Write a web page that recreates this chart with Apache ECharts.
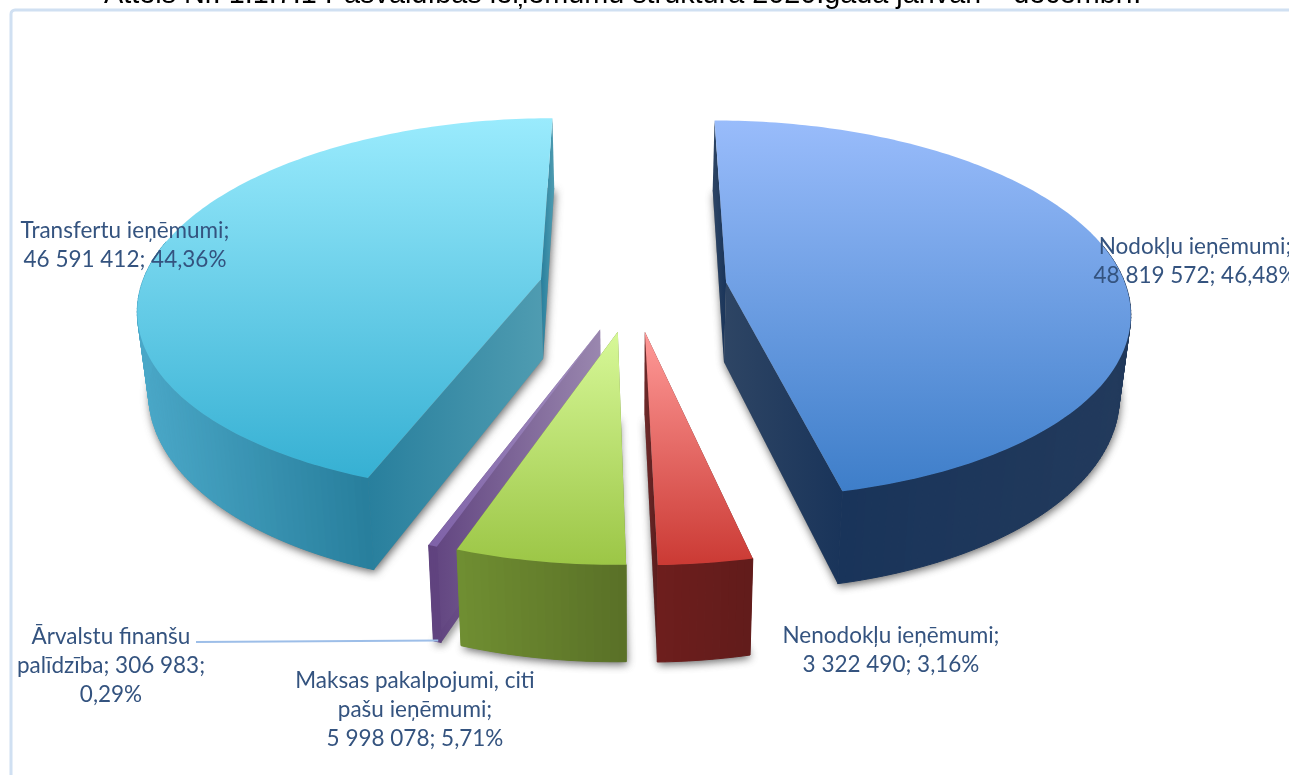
<!DOCTYPE html>
<html>
<head>
    <meta charset="utf-8" />
    <title>Pašvaldības ieņēmumu struktūra</title>
    <style>
        html, body { margin: 0; padding: 0; background: #fff; overflow: hidden; }
    </style>
</head>
<body>

    <div id="divChart" style="width:1289px;height:775px;"></div>

    <script src="https://cdn.jsdelivr.net/npm/echarts@6/dist/echarts.min.js"></script>
    <script>
        // clockwise from 12 o'clock, as in the source pie
        var categories = ['Nodokļu ieņēmumi', 'Nenodokļu ieņēmumi', 'Maksas pakalpojumi, citi\npašu ieņēmumi', 'Ārvalstu finanšu\npalīdzība', 'Transfertu ieņēmumi'];
        var values = [48819572, 3322490, 5998078, 306983, 46591412];
        var titleText = 'Attēls Nr. 1.1.7.1 Pašvaldības ieņēmumu struktūra 2020.gadā janvāri – decembrī.';

        // back slices first, so the front ones paint over them
        var drawOrder = [4, 0, 3, 2, 1];

        var topColors = [['#99bcfb', '#3e7ec9'], ['#ff9a98', '#cb3a34'], ['#d7f898', '#9cc646'], ['#a592c0', '#7f62a8'], ['#9aebfd', '#36b0d3']];
        var wallColors = [['#19345a', '#223a5c'], ['#6e1e1d', '#621c1b'], ['#708f32', '#5a7127'], ['#60437f', '#60437f'], ['#4aa8c8', '#287f9d']];
        var sideColors = [['#2e4564', '#19345a'], ['#6e2a2a', '#5a1c1c'], ['#708f32', '#708f32'], ['#60437f', '#9a87af'], ['#287f9d', '#4f9cb1']];

        // label placing: line breaks after name and after value, label centre
        var labelSeps = [['\n', ' '], ['\n', ' '], ['\n', ' '], [' ', '\n'], ['\n', ' ']];
        var labelPos = [[1195, 261], [891, 650], [415, 710], [111, 666], [125, 245]];

        // perspective of the pie plane
        var CX = 633, CY = 287, RX = 400, RY = 186, P = 0.142, DEPTH = 80, LOW = 0.977, EXPLODE = 0.235;

        var total = 0;
        var angles = [];
        values.forEach(function (v) { total += v; });
        var acc = 0;
        values.forEach(function (v) {
            var a0 = acc / total * 360;
            acc += v;
            angles.push([a0, acc / total * 360]);
        });

        function project(u, v, low) {
            var w = 1 - P * v;
            var x = CX + RX * u / w;
            var y = CY + RY * v / w;
            if (low) {
                x = CX + (x - CX) * LOW;
                y += DEPTH / w;
            }
            return [x, y];
        }

        function rad(d) { return d * Math.PI / 180; }

        function sliceApex(i) {
            var mid = rad((angles[i][0] + angles[i][1]) / 2);
            return [EXPLODE * Math.sin(mid), -EXPLODE * Math.cos(mid)];
        }

        function rim(i, deg, low) {
            var c = sliceApex(i);
            return project(c[0] + Math.sin(rad(deg)), c[1] - Math.cos(rad(deg)), low);
        }

        function gradient(c, horizontal) {
            return new echarts.graphic.LinearGradient(0, 0, horizontal ? 1 : 0, horizontal ? 0 : 1, [
                { offset: 0, color: c[0] },
                { offset: 1, color: c[1] }
            ]);
        }

        function poly(points, fill, extra) {
            var style = { fill: fill };
            for (var k in extra) { style[k] = extra[k]; }
            return { type: 'polygon', shape: { points: points }, style: style, silent: true };
        }

        function renderSlice(params, api) {
            var i = drawOrder[params.dataIndex];
            var a0 = angles[i][0], a1 = angles[i][1];
            var c = sliceApex(i);
            var A = project(c[0], c[1], false), AL = project(c[0], c[1], true);
            var topPts = [A], lowPts = [AL], wallTop = [], wallLow = [];
            var n = Math.max(4, Math.ceil(a1 - a0));
            for (var s = 0; s <= n; s++) {
                var d = a0 + (a1 - a0) * s / n;
                var t = rim(i, d, false), b = rim(i, d, true);
                topPts.push(t);
                lowPts.push(b);
                if (Math.abs(d - 180) < 103) {
                    wallTop.push(t);
                    wallLow.push(b);
                }
            }
            var children = [];
            // soft shadow cast under the bottom face
            children.push(poly(lowPts, '#8a8a8a', { shadowBlur: 9, shadowColor: 'rgba(70,70,70,0.8)', shadowOffsetX: 1, shadowOffsetY: 3 }));
            // the two cut faces
            children.push(poly([A, rim(i, a0, false), rim(i, a0, true), AL], gradient(sideColors[i], true)));
            children.push(poly([A, rim(i, a1, false), rim(i, a1, true), AL], gradient(sideColors[i], true)));
            // curved outer wall, in strips so the silhouette stays straight at the sides
            var xs = wallTop.map(function (p) { return p[0]; });
            var minX = Math.min.apply(null, xs), maxX = Math.max.apply(null, xs);
            for (var k = 0; k < wallTop.length - 1; k++) {
                var col = echarts.color.lerp((wallTop[k][0] - minX) / (maxX - minX), wallColors[i]);
                children.push(poly([wallTop[k], wallTop[k + 1], wallLow[k + 1], wallLow[k]], col, { stroke: col, lineWidth: 1 }));
            }
            // top face
            children.push(poly(topPts, gradient(topColors[i], false)));
            return { type: 'group', children: children };
        }

        function fmtNum(v) {
            return String(v).replace(/\B(?=(\d{3})+$)/g, ' ');
        }

        function renderLabel(params, api) {
            var i = params.dataIndex;
            var pct = (api.value(0) / total * 100).toFixed(2).replace('.', ',') + '%';
            var txt = categories[i] + ';' + labelSeps[i][0] + fmtNum(api.value(0)) + ';' + labelSeps[i][1] + pct;
            var children = [{
                type: 'text',
                x: labelPos[i][0],
                y: labelPos[i][1],
                silent: true,
                style: { text: txt, align: 'center', verticalAlign: 'middle', font: '22.5px Lato', lineHeight: 29, fill: '#34537f' }
            }];
            if (i === 3) {
                var end = rim(i, angles[i][0], true);
                children.unshift({
                    type: 'line',
                    silent: true,
                    shape: { x1: 196, y1: 642, x2: end[0] - 3, y2: end[1] - 2 },
                    style: { stroke: '#9dbee8', lineWidth: 2 }
                });
            }
            return { type: 'group', children: children };
        }

        var myChart = echarts.init(document.getElementById('divChart'));

        var option = {
            animation: false,
            backgroundColor: '#fff',
            title: {
                text: titleText,
                left: 104,
                top: -19,
                padding: 0,
                textStyle: { fontFamily: 'Liberation Sans', fontSize: 28.8, fontWeight: 'normal', color: '#000' }
            },
            graphic: [{
                type: 'rect',
                silent: true,
                z: -1,
                shape: { x: 11, y: 10, width: 1320, height: 820, r: 4 },
                style: { fill: '#fff', stroke: '#d0e0f2', lineWidth: 3 }
            }],
            series: [
                {
                    type: 'custom',
                    coordinateSystem: 'none',
                    renderItem: renderSlice,
                    data: drawOrder.map(function (i) { return [values[i]]; }),
                    z: 2
                },
                {
                    type: 'custom',
                    coordinateSystem: 'none',
                    renderItem: renderLabel,
                    data: values.map(function (v) { return [v]; }),
                    z: 3
                }
            ]
        };
        myChart.setOption(option);
    </script>
</body>
</html>
